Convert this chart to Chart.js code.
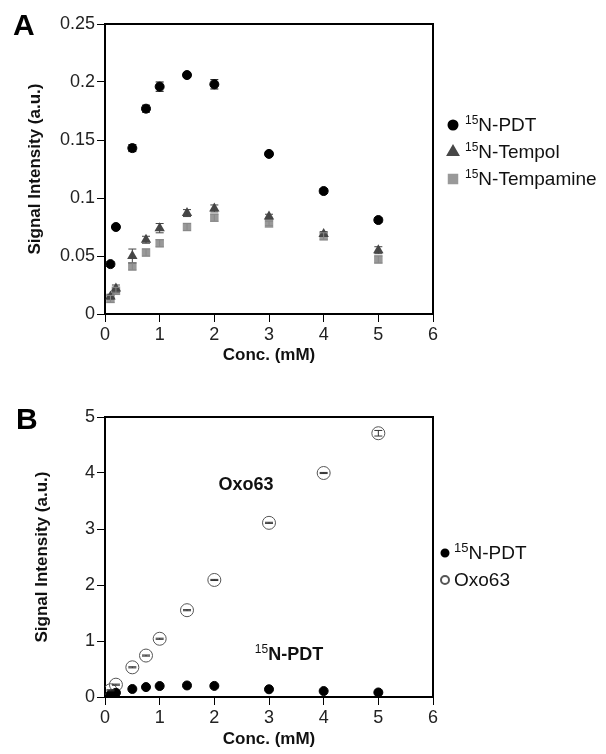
<!DOCTYPE html>
<html>
<head>
<meta charset="utf-8">
<script src="https://cdn.jsdelivr.net/npm/chart.js@4.4.1/dist/chart.umd.min.js"></script>
<style>
  body { margin: 0; background: #fff; }
  #wrapA { position: absolute; left: 0; top: 0; }
  #wrapB { position: absolute; left: 0; top: 370px; }
</style>
</head>
<body>
<div id="wrapA"><canvas id="chartA" width="606" height="370"></canvas></div>
<div id="wrapB"><canvas id="chartB" width="606" height="384"></canvas></div>
<script>
// concentrations (mM)
const conc = [0.1, 0.2, 0.5, 0.75, 1, 1.5, 2, 3, 4, 5];

// panel A
const pdt = [0.043, 0.075, 0.143, 0.177, 0.196, 0.206, 0.198, 0.138, 0.106, 0.081];
const pdtErr = [0.002, 0.002, 0.003, 0.003, 0.004, 0.002, 0.004, 0.002, 0.002, 0.002];
const tempol = [0.015, 0.022, 0.050, 0.064, 0.074, 0.087, 0.091, 0.084, 0.069, 0.055];
const tempolErr = [0.002, 0.003, 0.006, 0.003, 0.004, 0.003, 0.003, 0.002, 0.002, 0.003];
const tempamine = [0.013, 0.020, 0.041, 0.053, 0.061, 0.075, 0.083, 0.078, 0.067, 0.047];
const tempamineErr = [0.003, 0.003, 0.003, 0.003, 0.003, 0.003, 0.003, 0.002, 0.003, 0.003];

// panel B
const oxo63 = [0.12, 0.22, 0.53, 0.74, 1.04, 1.55, 2.09, 3.11, 4.0, 4.71];
const oxo63Err = [0.01, 0.01, 0.01, 0.01, 0.01, 0.01, 0.01, 0.01, 0.01, 0.05];
const pdtB = pdt;
const pdtBErr = [0.01, 0.01, 0.01, 0.01, 0.01, 0.01, 0.01, 0.01, 0.01, 0.01];

// tick labels
const xTicks = [0, 1, 2, 3, 4, 5, 6];
const yTicksA = [0, 0.05, 0.1, 0.15, 0.2, 0.25];
const yTickLabelsA = ["0", "0.05", "0.1", "0.15", "0.2", "0.25"];
const yTicksB = [0, 1, 2, 3, 4, 5];

const FONT = "'Liberation Sans', Arial, sans-serif";

function pts(xs, ys) {
  return xs.map((x, i) => ({ x: x, y: ys[i] }));
}

// error bars drawn from the scales
const errorBars = {
  id: "errorBars",
  afterDatasetsDraw(chart) {
    const ctx = chart.ctx;
    const ys = chart.scales.y;
    chart.data.datasets.forEach((ds, i) => {
      if (!ds.errors) return;
      const meta = chart.getDatasetMeta(i);
      ctx.save();
      ctx.strokeStyle = ds.errColor || "#000";
      ctx.lineWidth = 1;
      meta.data.forEach((p, j) => {
        const v = ds.data[j].y;
        const top = ys.getPixelForValue(v + ds.errors[j]);
        const bot = ys.getPixelForValue(v - ds.errors[j]);
        ctx.beginPath();
        ctx.moveTo(p.x, top); ctx.lineTo(p.x, bot);
        ctx.moveTo(p.x - 4, top); ctx.lineTo(p.x + 4, top);
        ctx.moveTo(p.x - 4, bot); ctx.lineTo(p.x + 4, bot);
        ctx.stroke();
      });
      ctx.restore();
    });
  }
};

// box around plot, panel letter, legend, annotations
const decor = {
  id: "decor",
  afterDraw(chart, args, opts) {
    const ctx = chart.ctx;
    const a = chart.chartArea;
    ctx.save();
    ctx.strokeStyle = "#000";
    ctx.lineWidth = 2;
    ctx.beginPath();
    ctx.moveTo(a.left, a.top); ctx.lineTo(a.right, a.top); ctx.lineTo(a.right, a.bottom);
    ctx.stroke();

    ctx.fillStyle = "#000";
    ctx.font = "bold 30px " + FONT;
    ctx.textBaseline = "alphabetic";
    ctx.fillText(opts.letter, opts.letterX, opts.letterY);

    // legend
    opts.legend.forEach(it => {
      ctx.fillStyle = it.fill;
      ctx.strokeStyle = it.stroke;
      Chart.helpers.drawPoint(ctx, { pointStyle: it.style, radius: it.r, rotation: 0, borderWidth: 1 }, opts.legX, it.y);
      ctx.fillStyle = "#111";
      let x = opts.legX + opts.textGap;
      if (it.sup) {
        ctx.font = opts.supSize + "px " + FONT;
        ctx.textBaseline = "alphabetic";
        ctx.fillText(it.sup, x, it.y - 1);
        x += ctx.measureText(it.sup).width;
      }
      ctx.font = opts.legSize + "px " + FONT;
      ctx.textBaseline = "middle";
      ctx.fillText(it.text, x, it.y + 1);
    });

    // in-plot labels
    (opts.notes || []).forEach(n => {
      let x = chart.scales.x.getPixelForValue(n.x);
      const y = chart.scales.y.getPixelForValue(n.y);
      ctx.fillStyle = "#111";
      ctx.textBaseline = "middle";
      if (n.sup) {
        ctx.font = "12px " + FONT;
        ctx.fillText(n.sup, x, y - 5);
        x += ctx.measureText(n.sup).width;
      }
      ctx.font = "bold 18px " + FONT;
      ctx.textAlign = n.sup ? "left" : "center";
      ctx.fillText(n.text, x, y);
      ctx.textAlign = "left";
    });
    ctx.restore();
  }
};

function axis(extra) {
  return Object.assign({
    type: "linear",
    grid: { drawOnChartArea: false, drawTicks: true, tickLength: 8, color: "#000", lineWidth: 1 },
    border: { display: true, color: "#000", width: 2 },
  }, extra);
}

function makeChart(id, datasets, yVals, yLabels, yMax, xHeight, opts, yTitlePad, padTop) {
  return new Chart(document.getElementById(id), {
    type: "scatter",
    data: { datasets: datasets },
    options: {
      responsive: false,
      animation: false,
      layout: { padding: { left: 0, right: 173, top: padTop, bottom: 0 } },
      plugins: { legend: { display: false }, tooltip: { enabled: false }, decor: opts },
      scales: {
        x: axis({
          min: 0, max: 6,
          afterBuildTicks: s => { s.ticks = xTicks.map(v => ({ value: v })); },
          ticks: { color: "#222", font: { family: FONT, size: 18 }, padding: 2 },
          title: { display: true, text: "Conc. (mM)", color: "#111", font: { family: FONT, size: 17, weight: "bold" }, padding: { top: 0, bottom: 4 } },
          afterFit: s => { s.height = xHeight; }
        }),
        y: axis({
          min: 0, max: yMax,
          afterBuildTicks: s => { s.ticks = yVals.map(v => ({ value: v })); },
          ticks: { color: "#222", font: { family: FONT, size: 18 }, padding: 2,
                   callback: (v, i) => yLabels[i] },
          title: { display: true, text: "Signal Intensity (a.u.)", color: "#111", font: { family: FONT, size: 17, weight: "bold" }, padding: { top: yTitlePad, bottom: 0 } },
          afterFit: s => { s.width = 105; }
        })
      }
    },
    plugins: [errorBars, decor]
  });
}

makeChart("chartA", [
  { label: "15N-PDT", data: pts(conc, pdt), errors: pdtErr, pointStyle: "circle", pointRadius: 4.5,
    backgroundColor: "#000", borderColor: "#000", borderWidth: 1 },
  { label: "15N-Tempol", data: pts(conc, tempol), errors: tempolErr, errColor: "#444", pointStyle: "triangle", pointRadius: 6,
    backgroundColor: "#474747", borderColor: "#474747", borderWidth: 0 },
  { label: "15N-Tempamine", data: pts(conc, tempamine), errors: tempamineErr, errColor: "#888", pointStyle: "rect", pointRadius: 6,
    backgroundColor: "#999", borderColor: "#999", borderWidth: 0 }
], yTicksA, yTickLabelsA, 0.25, 56, {
  letter: "A", letterX: 13, letterY: 35,
  legX: 453, textGap: 12, supSize: 12, legSize: 19,
  legend: [
    { style: "circle", r: 4.5, fill: "#000", stroke: "#000", sup: "15", text: "N-PDT", y: 125 },
    { style: "triangle", r: 6, fill: "#474747", stroke: "#474747", sup: "15", text: "N-Tempol", y: 152 },
    { style: "rect", r: 6, fill: "#999", stroke: "#999", sup: "15", text: "N-Tempamine", y: 179 }
  ]
}, 25, 24);

makeChart("chartB", [
  { label: "15N-PDT", data: pts(conc, pdtB), errors: pdtBErr, pointStyle: "circle", pointRadius: 4.5,
    backgroundColor: "#000", borderColor: "#000", borderWidth: 1 },
  { label: "Oxo63", data: pts(conc, oxo63), errors: oxo63Err, errColor: "#333", pointStyle: "circle", pointRadius: 6.5,
    backgroundColor: "rgba(255,255,255,0)", borderColor: "#555", borderWidth: 1 }
], yTicksB, yTicksB.map(String), 5, 57, {
  letter: "B", letterX: 16, letterY: 429 - 370,
  legX: 445, textGap: 9, supSize: 13, legSize: 19,
  legend: [
    { style: "circle", r: 3.5, fill: "#000", stroke: "#000", sup: "15", text: "N-PDT", y: 553 - 370 },
    { style: "circle", r: 4, fill: "#fff", stroke: "#555", sup: "", text: "Oxo63", y: 580 - 370 }
  ],
  notes: [
    { x: 2.58, y: 3.79, text: "Oxo63" },
    { x: 2.74, y: 0.75, sup: "15", text: "N-PDT" }
  ]
}, 32, 47);
</script>
</body>
</html>
